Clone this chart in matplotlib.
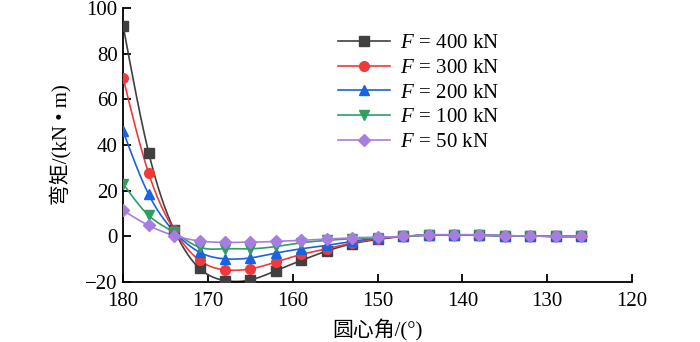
import numpy as np
import matplotlib
matplotlib.use('Agg')
import matplotlib.pyplot as plt

plt.rcParams['font.family'] = ['Liberation Serif', 'Noto Sans CJK SC']
plt.rcParams['mathtext.fontset'] = 'custom'
plt.rcParams['mathtext.it'] = 'Liberation Serif:italic'
plt.rcParams['mathtext.rm'] = 'Liberation Serif'

# central angle (deg) and bending moment (kN*m)
angle = [180, 177, 174, 171, 168, 165, 162, 159, 156, 153, 150,
         147, 144, 141, 138, 135, 132, 129, 126]
m400 = [92.0, 36.7, 2.9, -14.0, -19.3, -19.0, -15.0, -10.5, -6.4, -3.2, -1.3,
        0.0, 0.6, 0.7, 0.6, 0.3, 0.2, 0.0, 0.0]
m300 = [69.2, 27.6, 2.8, -10.5, -14.6, -14.2, -11.2, -7.9, -5.4, -2.9, -1.0,
        0.0, 0.6, 0.7, 0.6, 0.3, 0.2, 0.0, 0.0]
m200 = [46.0, 18.4, 2.2, -6.9, -9.8, -9.4, -7.3, -5.4, -3.9, -2.2, -0.7,
        0.0, 0.6, 0.7, 0.6, 0.3, 0.2, 0.0, 0.0]
m100 = [23.1, 9.2, 1.8, -4.7, -5.4, -5.4, -4.4, -2.8, -1.7, -1.0, -0.5,
        0.0, 0.6, 0.7, 0.6, 0.3, 0.2, 0.0, 0.0]
m50 = [11.4, 4.8, 0.4, -2.0, -2.6, -2.5, -2.2, -1.7, -1.2, -0.6, -0.3,
       0.0, 0.7, 0.8, 0.7, 0.3, 0.2, 0.0, 0.0]

loads = ['400', '300', '200', '100', '50']
labels = [r'$F\,\mathrm{=}\,$' + f'{v} kN' for v in loads]
colors = ['#404040', '#f03a3a', '#1a62e4', '#2e9e62', '#a77de2']
markers = ['s', 'o', '^', 'v', 'D']
msizes = [6.5, 7, 7.5, 7.5, 6]


def natural_spline(x, y, n=400):
    # natural cubic spline, only used to draw a smooth line through the points
    x = np.asarray(x, float)
    y = np.asarray(y, float)
    order = np.argsort(x)
    x, y = x[order], y[order]
    k = len(x)
    h = np.diff(x)
    A = np.zeros((k, k))
    b = np.zeros(k)
    A[0, 0] = A[-1, -1] = 1
    for i in range(1, k - 1):
        A[i, i - 1] = h[i - 1]
        A[i, i] = 2 * (h[i - 1] + h[i])
        A[i, i + 1] = h[i]
        b[i] = 3 * ((y[i + 1] - y[i]) / h[i] - (y[i] - y[i - 1]) / h[i - 1])
    c = np.linalg.solve(A, b)
    xs = np.linspace(x[0], x[-1], n)
    idx = np.clip(np.searchsorted(x, xs) - 1, 0, k - 2)
    dx = xs - x[idx]
    hi = h[idx]
    bb = (y[idx + 1] - y[idx]) / hi - hi * (2 * c[idx] + c[idx + 1]) / 3
    dd = (c[idx + 1] - c[idx]) / (3 * hi)
    ys = y[idx] + bb * dx + c[idx] * dx ** 2 + dd * dx ** 3
    return xs, ys


fig = plt.figure(figsize=(7, 3.42), dpi=100)
ax = fig.add_axes([0.176, 0.175, 0.727, 0.802])

for vals, lab, col, mk, ms in zip([m400, m300, m200, m100, m50], labels, colors, markers, msizes):
    xs, ys = natural_spline(angle, vals)
    ax.plot(xs, ys, color=col, lw=1.2, zorder=2)
    ax.plot(angle, vals, ls='none', marker=mk, ms=ms, color=col, zorder=3)
    ax.plot([], [], color=col, lw=1.2, marker=mk, ms=ms, label=lab)

ax.set_xlim(180, 120)
ax.set_ylim(-20, 100)
ax.set_xticks([180, 170, 160, 150, 140, 130, 120])
ax.set_yticks([-20, 0, 20, 40, 60, 80, 100])
ax.set_yticklabels(['−20', '0', '20', '40', '60', '80', '100'])
ax.tick_params(direction='in', length=6, width=1.3, labelsize=15)
ax.tick_params(axis='x', pad=7)
ax.tick_params(axis='y', pad=4)
for s in ['top', 'right']:
    ax.spines[s].set_visible(False)
for s in ['left', 'bottom']:
    ax.spines[s].set_linewidth(1.3)

ax.set_xlabel('圆心角/(°)', fontsize=15, labelpad=6)
ax.set_ylabel('弯矩/(kN • m)', fontsize=15, labelpad=10)

ax.legend(loc='upper left', bbox_to_anchor=(0.405, 0.937), frameon=False, fontsize=15,
          handlelength=2.5, handletextpad=0.5, labelspacing=0.25, borderaxespad=0)

fig.savefig('out.png', dpi=100)
